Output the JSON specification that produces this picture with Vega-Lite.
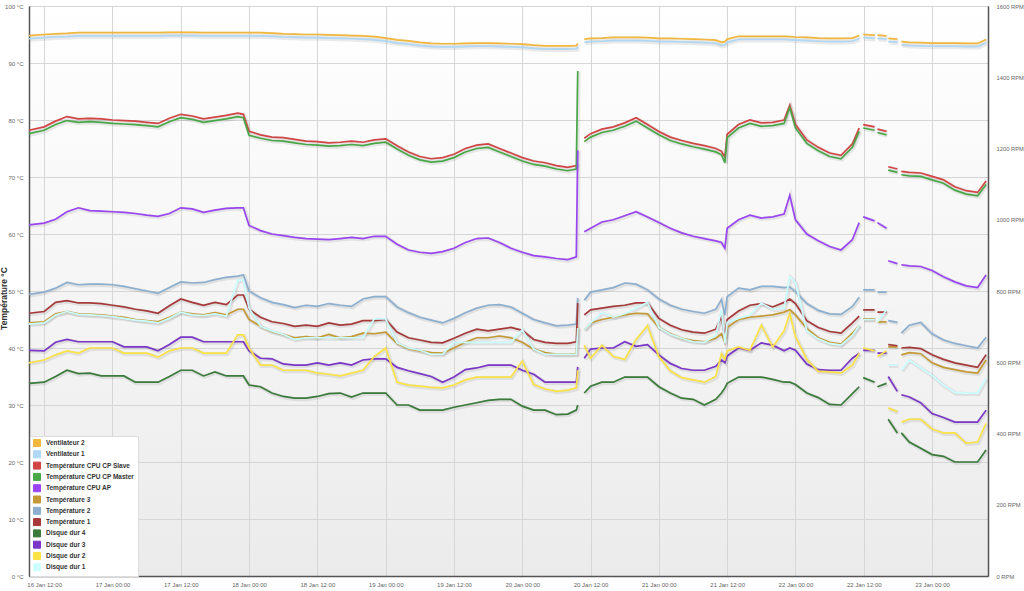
{
"$schema": "https://vega.github.io/schema/vega-lite/v6.json",
"width": 959, "height": 570,
"autosize": {"type": "none"},
"padding": {"left": 29, "top": 6, "right": 36, "bottom": 15},
"background": "white",
"config": {
  "font": "Liberation Sans",
  "view": {"stroke": "#666", "strokeWidth": 1, "fill": {"gradient": "linear", "x1": 0, "y1": 0, "x2": 0, "y2": 1, "stops": [{"offset": 0, "color": "#ffffff"}, {"offset": 1, "color": "#ebebeb"}]}}
},
"data": {"format": {"parse": {"t": "utc:'%d %H:%M'"}}, "values": [
{"t":"16 09:20","v2":1517,"v1":1508,"cs":78.2,"cm":77.6,"ap":61.6,"t3":44.4,"t2":49.4,"t1":46.1,"d4":33.8,"d3":39.6,"d2":37.4,"d1":44.2},
{"t":"16 12:00","v2":1520,"v1":1511,"cs":78.8,"cm":78.2,"ap":61.9,"t3":44.6,"t2":49.8,"t1":46.4,"d4":34.0,"d3":39.5,"d2":37.9,"d1":44.4},
{"t":"16 14:00","v2":1522,"v1":1513,"cs":79.8,"cm":79.2,"ap":62.6,"t3":46.0,"t2":50.5,"t1":48.0,"d4":35.0,"d3":41.0,"d2":38.8,"d1":45.8},
{"t":"16 16:00","v2":1523,"v1":1514,"cs":80.6,"cm":79.9,"ap":63.9,"t3":46.4,"t2":51.5,"t1":48.3,"d4":36.1,"d3":41.5,"d2":39.5,"d1":46.4},
{"t":"16 18:00","v2":1525,"v1":1516,"cs":80.2,"cm":79.6,"ap":64.6,"t3":46.0,"t2":51.1,"t1":47.9,"d4":35.5,"d3":41.1,"d2":39.1,"d1":45.9},
{"t":"16 20:00","v2":1525,"v1":1516,"cs":80.3,"cm":79.7,"ap":64.1,"t3":45.9,"t2":51.2,"t1":47.9,"d4":35.6,"d3":41.1,"d2":40.0,"d1":45.8},
{"t":"16 22:00","v2":1525,"v1":1516,"cs":80.2,"cm":79.6,"ap":64.0,"t3":45.8,"t2":51.2,"t1":47.8,"d4":35.1,"d3":41.1,"d2":40.0,"d1":45.7},
{"t":"17 00:00","v2":1525,"v1":1516,"cs":80.0,"cm":79.4,"ap":63.9,"t3":45.6,"t2":51.1,"t1":47.5,"d4":35.1,"d3":41.1,"d2":40.0,"d1":45.5},
{"t":"17 02:00","v2":1525,"v1":1516,"cs":79.9,"cm":79.3,"ap":63.8,"t3":45.4,"t2":50.8,"t1":47.2,"d4":35.1,"d3":40.2,"d2":39.1,"d1":45.2},
{"t":"17 04:00","v2":1525,"v1":1516,"cs":79.8,"cm":79.2,"ap":63.6,"t3":45.0,"t2":50.4,"t1":46.8,"d4":34.0,"d3":40.2,"d2":39.1,"d1":44.9},
{"t":"17 06:00","v2":1525,"v1":1516,"cs":79.6,"cm":79.0,"ap":63.3,"t3":44.8,"t2":50.0,"t1":46.5,"d4":34.0,"d3":40.2,"d2":39.1,"d1":44.7},
{"t":"17 08:00","v2":1525,"v1":1516,"cs":79.4,"cm":78.8,"ap":63.1,"t3":44.6,"t2":49.6,"t1":46.1,"d4":34.0,"d3":39.5,"d2":38.4,"d1":44.4},
{"t":"17 10:00","v2":1526,"v1":1517,"cs":80.3,"cm":79.7,"ap":63.6,"t3":45.4,"t2":50.6,"t1":47.4,"d4":35.0,"d3":40.6,"d2":39.5,"d1":45.2},
{"t":"17 12:00","v2":1526,"v1":1517,"cs":81.0,"cm":80.4,"ap":64.6,"t3":46.3,"t2":51.6,"t1":48.6,"d4":36.1,"d3":41.9,"d2":40.0,"d1":46.3},
{"t":"17 14:00","v2":1526,"v1":1517,"cs":80.7,"cm":80.1,"ap":64.4,"t3":46.0,"t2":51.4,"t1":48.0,"d4":36.1,"d3":41.9,"d2":40.0,"d1":45.8},
{"t":"17 16:00","v2":1525,"v1":1516,"cs":80.2,"cm":79.6,"ap":63.8,"t3":45.8,"t2":51.5,"t1":47.5,"d4":35.1,"d3":41.1,"d2":39.1,"d1":45.7},
{"t":"17 18:00","v2":1525,"v1":1516,"cs":80.5,"cm":79.9,"ap":64.2,"t3":46.2,"t2":52.0,"t1":48.0,"d4":35.8,"d3":41.1,"d2":39.1,"d1":46.0},
{"t":"17 20:00","v2":1525,"v1":1516,"cs":80.8,"cm":80.2,"ap":64.5,"t3":45.8,"t2":52.4,"t1":47.6,"d4":35.1,"d3":41.1,"d2":39.1,"d1":45.6},
{"t":"17 22:00","v2":1525,"v1":1516,"cs":81.2,"cm":80.6,"ap":64.6,"t3":46.8,"t2":52.6,"t1":49.3,"d4":35.1,"d3":41.1,"d2":42.3,"d1":51.9},
{"t":"17 23:00","v2":1525,"v1":1516,"cs":81.0,"cm":80.4,"ap":64.6,"t3":46.8,"t2":52.8,"t1":49.3,"d4":35.1,"d3":41.1,"d2":42.3,"d1":51.9},
{"t":"18 00:00","v2":1525,"v1":1516,"cs":78.0,"cm":77.3,"ap":61.5,"t3":45.0,"t2":50.0,"t1":46.8,"d4":33.5,"d3":39.5,"d2":40.0,"d1":47.0},
{"t":"18 02:00","v2":1525,"v1":1516,"cs":77.4,"cm":76.8,"ap":60.6,"t3":43.8,"t2":48.8,"t1":45.4,"d4":33.2,"d3":38.2,"d2":37.0,"d1":43.8},
{"t":"18 04:00","v2":1524,"v1":1515,"cs":77.0,"cm":76.4,"ap":60.0,"t3":42.9,"t2":48.0,"t1":44.6,"d4":32.1,"d3":38.1,"d2":37.0,"d1":43.0},
{"t":"18 06:00","v2":1522,"v1":1513,"cs":76.9,"cm":76.3,"ap":59.7,"t3":42.4,"t2":47.6,"t1":44.3,"d4":31.5,"d3":37.2,"d2":36.1,"d1":42.4},
{"t":"18 08:00","v2":1521,"v1":1512,"cs":76.6,"cm":76.0,"ap":59.4,"t3":41.8,"t2":47.1,"t1":43.8,"d4":31.2,"d3":37.0,"d2":36.1,"d1":41.5},
{"t":"18 10:00","v2":1520,"v1":1511,"cs":76.3,"cm":75.7,"ap":59.2,"t3":42.0,"t2":47.5,"t1":44.0,"d4":31.2,"d3":37.0,"d2":36.1,"d1":41.8},
{"t":"18 12:00","v2":1520,"v1":1511,"cs":76.2,"cm":75.6,"ap":59.1,"t3":41.8,"t2":47.3,"t1":43.8,"d4":31.5,"d3":37.4,"d2":35.6,"d1":41.8},
{"t":"18 14:00","v2":1519,"v1":1510,"cs":76.0,"cm":75.4,"ap":59.0,"t3":42.4,"t2":47.8,"t1":44.4,"d4":32.0,"d3":37.0,"d2":35.4,"d1":41.8},
{"t":"18 16:00","v2":1518,"v1":1509,"cs":76.1,"cm":75.5,"ap":59.2,"t3":41.8,"t2":47.5,"t1":44.0,"d4":32.1,"d3":37.4,"d2":35.1,"d1":41.8},
{"t":"18 18:00","v2":1517,"v1":1508,"cs":76.3,"cm":75.7,"ap":59.4,"t3":42.0,"t2":47.3,"t1":44.2,"d4":31.4,"d3":37.0,"d2":35.6,"d1":41.8},
{"t":"18 20:00","v2":1516,"v1":1507,"cs":76.1,"cm":75.5,"ap":59.2,"t3":42.6,"t2":48.6,"t1":44.8,"d4":32.1,"d3":37.9,"d2":36.1,"d1":41.8},
{"t":"18 22:00","v2":1514,"v1":1505,"cs":76.5,"cm":75.9,"ap":59.6,"t3":42.5,"t2":49.0,"t1":44.8,"d4":32.1,"d3":38.1,"d2":38.5,"d1":45.1},
{"t":"19 00:00","v2":1510,"v1":1501,"cs":76.7,"cm":76.1,"ap":59.6,"t3":42.8,"t2":49.0,"t1":45.0,"d4":32.1,"d3":38.1,"d2":40.0,"d1":45.1},
{"t":"19 02:00","v2":1505,"v1":1496,"cs":75.5,"cm":74.9,"ap":58.2,"t3":40.8,"t2":47.2,"t1":42.8,"d4":30.0,"d3":36.6,"d2":34.0,"d1":40.9},
{"t":"19 04:00","v2":1502,"v1":1493,"cs":74.4,"cm":73.8,"ap":57.2,"t3":39.9,"t2":46.2,"t1":41.8,"d4":30.0,"d3":36.0,"d2":33.5,"d1":40.0},
{"t":"19 06:00","v2":1498,"v1":1489,"cs":73.6,"cm":73.0,"ap":56.8,"t3":39.5,"t2":45.4,"t1":41.4,"d4":29.1,"d3":35.5,"d2":33.3,"d1":39.6},
{"t":"19 08:00","v2":1495,"v1":1486,"cs":73.2,"cm":72.6,"ap":56.6,"t3":39.2,"t2":44.9,"t1":41.0,"d4":29.1,"d3":35.0,"d2":33.1,"d1":38.9},
{"t":"19 10:00","v2":1494,"v1":1485,"cs":73.4,"cm":72.8,"ap":56.9,"t3":39.1,"t2":44.4,"t1":40.9,"d4":29.1,"d3":34.0,"d2":33.0,"d1":38.9},
{"t":"19 12:00","v2":1494,"v1":1485,"cs":74.0,"cm":73.4,"ap":57.5,"t3":40.0,"t2":45.2,"t1":41.7,"d4":29.6,"d3":34.9,"d2":33.5,"d1":41.0},
{"t":"19 14:00","v2":1495,"v1":1486,"cs":75.0,"cm":74.4,"ap":58.5,"t3":41.0,"t2":46.2,"t1":42.6,"d4":30.0,"d3":36.2,"d2":34.4,"d1":41.0},
{"t":"19 16:00","v2":1496,"v1":1487,"cs":75.6,"cm":75.0,"ap":59.2,"t3":41.8,"t2":47.0,"t1":43.3,"d4":30.4,"d3":36.5,"d2":34.9,"d1":41.0},
{"t":"19 18:00","v2":1496,"v1":1487,"cs":75.8,"cm":75.2,"ap":59.3,"t3":41.8,"t2":47.5,"t1":43.0,"d4":30.8,"d3":37.0,"d2":34.9,"d1":41.0},
{"t":"19 20:00","v2":1495,"v1":1486,"cs":75.0,"cm":74.4,"ap":58.5,"t3":42.1,"t2":47.6,"t1":43.3,"d4":31.0,"d3":37.0,"d2":34.9,"d1":41.0},
{"t":"19 22:00","v2":1494,"v1":1485,"cs":74.2,"cm":73.6,"ap":57.5,"t3":41.8,"t2":47.2,"t1":43.6,"d4":31.0,"d3":37.0,"d2":34.9,"d1":41.0},
{"t":"20 00:00","v2":1493,"v1":1484,"cs":73.4,"cm":72.8,"ap":56.8,"t3":41.0,"t2":46.1,"t1":43.1,"d4":29.8,"d3":36.1,"d2":37.7,"d1":43.2},
{"t":"20 02:00","v2":1490,"v1":1481,"cs":72.8,"cm":72.2,"ap":56.2,"t3":39.8,"t2":45.0,"t1":41.5,"d4":29.1,"d3":35.4,"d2":33.6,"d1":39.8},
{"t":"20 04:00","v2":1488,"v1":1479,"cs":72.5,"cm":71.9,"ap":56.0,"t3":39.2,"t2":44.4,"t1":41.0,"d4":29.1,"d3":34.0,"d2":32.8,"d1":38.9},
{"t":"20 06:00","v2":1488,"v1":1479,"cs":72.0,"cm":71.4,"ap":55.7,"t3":38.9,"t2":43.9,"t1":40.8,"d4":28.3,"d3":34.0,"d2":32.4,"d1":38.9},
{"t":"20 08:00","v2":1488,"v1":1479,"cs":71.7,"cm":71.1,"ap":55.5,"t3":38.9,"t2":44.0,"t1":40.8,"d4":28.4,"d3":34.0,"d2":32.6,"d1":38.9},
{"t":"20 09:30","v2":1489,"v1":1480,"cs":72.0,"cm":71.4,"ap":56.0,"t3":39.0,"t2":44.2,"t1":41.1,"d4":29.1,"d3":34.0,"d2":33.0,"d1":38.9},
{"t":"20 09:45","v2":1495,"v1":1486,"cs":72.3,"cm":88.6,"ap":74.7,"t3":43.7,"t2":48.8,"t1":47.9,"d4":30.0,"d3":36.7,"d2":36.1,"d1":43.5},
{"t":"20 10:00","v2":null,"v1":null,"cs":null,"cm":null,"ap":null,"t3":null,"t2":null,"t1":null,"d4":null,"d3":null,"d2":null,"d1":null},
{"t":"20 10:54","v2":1507,"v1":1498,"cs":76.8,"cm":76.2,"ap":60.4,"t3":43.2,"t2":48.4,"t1":45.8,"d4":32.1,"d3":38.2,"d2":40.5,"d1":43.2},
{"t":"20 12:00","v2":1509,"v1":1500,"cs":77.6,"cm":77.0,"ap":61.0,"t3":44.4,"t2":49.8,"t1":46.7,"d4":33.3,"d3":39.8,"d2":38.2,"d1":44.4},
{"t":"20 14:00","v2":1510,"v1":1501,"cs":78.4,"cm":77.8,"ap":62.1,"t3":45.0,"t2":50.2,"t1":47.0,"d4":34.0,"d3":40.0,"d2":40.5,"d1":46.2},
{"t":"20 16:00","v2":1512,"v1":1503,"cs":78.8,"cm":78.2,"ap":62.5,"t3":45.4,"t2":50.6,"t1":47.3,"d4":34.0,"d3":40.0,"d2":38.5,"d1":45.4},
{"t":"20 18:00","v2":1512,"v1":1503,"cs":79.5,"cm":78.9,"ap":63.2,"t3":45.8,"t2":51.4,"t1":47.5,"d4":34.9,"d3":41.1,"d2":38.0,"d1":46.0},
{"t":"20 20:00","v2":1512,"v1":1503,"cs":80.4,"cm":79.8,"ap":63.9,"t3":46.1,"t2":51.2,"t1":47.9,"d4":34.9,"d3":40.3,"d2":41.5,"d1":47.0},
{"t":"20 22:00","v2":1511,"v1":1502,"cs":79.2,"cm":78.6,"ap":63.0,"t3":46.0,"t2":50.2,"t1":47.9,"d4":34.9,"d3":40.6,"d2":43.9,"d1":48.0},
{"t":"21 00:00","v2":1509,"v1":1500,"cs":78.0,"cm":77.4,"ap":62.0,"t3":43.6,"t2":48.6,"t1":45.2,"d4":33.2,"d3":38.8,"d2":38.5,"d1":43.6},
{"t":"21 02:00","v2":1509,"v1":1500,"cs":77.0,"cm":76.4,"ap":61.0,"t3":42.5,"t2":47.5,"t1":44.0,"d4":32.1,"d3":37.3,"d2":36.0,"d1":42.4},
{"t":"21 04:00","v2":1508,"v1":1499,"cs":76.4,"cm":75.8,"ap":60.2,"t3":41.7,"t2":46.8,"t1":43.2,"d4":31.2,"d3":36.4,"d2":34.8,"d1":41.7},
{"t":"21 06:00","v2":1507,"v1":1498,"cs":75.9,"cm":75.3,"ap":59.6,"t3":41.3,"t2":46.4,"t1":42.8,"d4":31.0,"d3":36.1,"d2":34.4,"d1":41.1},
{"t":"21 08:00","v2":1506,"v1":1497,"cs":75.5,"cm":74.9,"ap":59.2,"t3":41.1,"t2":46.1,"t1":42.6,"d4":30.0,"d3":36.1,"d2":34.0,"d1":41.0},
{"t":"21 10:00","v2":1504,"v1":1495,"cs":75.0,"cm":74.4,"ap":58.8,"t3":41.7,"t2":46.8,"t1":43.3,"d4":31.0,"d3":36.8,"d2":35.0,"d1":42.2},
{"t":"21 11:00","v2":1498,"v1":1489,"cs":74.5,"cm":73.9,"ap":58.5,"t3":42.5,"t2":48.5,"t1":45.5,"d4":32.1,"d3":37.9,"d2":39.0,"d1":46.7},
{"t":"21 11:36","v2":1500,"v1":1491,"cs":73.5,"cm":72.5,"ap":57.5,"t3":41.0,"t2":45.8,"t1":41.8,"d4":33.0,"d3":37.4,"d2":38.0,"d1":40.8},
{"t":"21 12:00","v2":1507,"v1":1498,"cs":77.5,"cm":76.9,"ap":61.0,"t3":43.6,"t2":49.0,"t1":45.0,"d4":33.8,"d3":38.6,"d2":39.5,"d1":44.5},
{"t":"21 14:00","v2":1515,"v1":1506,"cs":79.2,"cm":78.6,"ap":62.5,"t3":45.0,"t2":50.5,"t1":46.5,"d4":34.9,"d3":40.0,"d2":40.2,"d1":45.2},
{"t":"21 16:00","v2":1515,"v1":1506,"cs":80.0,"cm":79.4,"ap":63.3,"t3":45.4,"t2":50.2,"t1":47.5,"d4":34.9,"d3":39.6,"d2":39.6,"d1":45.8},
{"t":"21 18:00","v2":1515,"v1":1506,"cs":79.5,"cm":78.9,"ap":62.8,"t3":45.6,"t2":50.8,"t1":47.8,"d4":34.9,"d3":40.9,"d2":44.0,"d1":47.9},
{"t":"21 20:00","v2":1515,"v1":1506,"cs":79.6,"cm":79.0,"ap":63.0,"t3":45.8,"t2":50.8,"t1":47.2,"d4":34.5,"d3":40.5,"d2":40.2,"d1":46.8},
{"t":"21 22:00","v2":1515,"v1":1506,"cs":80.0,"cm":79.4,"ap":63.5,"t3":46.3,"t2":50.6,"t1":48.0,"d4":34.0,"d3":39.5,"d2":43.0,"d1":47.0},
{"t":"21 23:00","v2":1514,"v1":1505,"cs":82.6,"cm":82.2,"ap":66.8,"t3":46.7,"t2":50.7,"t1":48.6,"d4":34.0,"d3":40.0,"d2":46.1,"d1":52.5},
{"t":"22 00:00","v2":1513,"v1":1504,"cs":79.2,"cm":78.6,"ap":62.5,"t3":45.8,"t2":49.9,"t1":47.8,"d4":33.6,"d3":39.6,"d2":42.0,"d1":51.5},
{"t":"22 02:00","v2":1512,"v1":1503,"cs":76.5,"cm":75.9,"ap":60.0,"t3":43.4,"t2":47.8,"t1":44.8,"d4":32.1,"d3":37.2,"d2":38.0,"d1":43.0},
{"t":"22 04:00","v2":1510,"v1":1501,"cs":75.2,"cm":74.6,"ap":58.8,"t3":41.8,"t2":46.6,"t1":43.6,"d4":31.3,"d3":36.2,"d2":35.9,"d1":41.6},
{"t":"22 06:00","v2":1509,"v1":1500,"cs":74.2,"cm":73.6,"ap":57.8,"t3":41.0,"t2":46.0,"t1":42.9,"d4":30.1,"d3":36.1,"d2":35.8,"d1":40.8},
{"t":"22 08:00","v2":1509,"v1":1500,"cs":73.8,"cm":73.2,"ap":57.2,"t3":40.7,"t2":45.9,"t1":42.6,"d4":30.0,"d3":36.1,"d2":35.6,"d1":40.5},
{"t":"22 10:00","v2":1510,"v1":1501,"cs":75.8,"cm":75.2,"ap":59.0,"t3":42.6,"t2":47.3,"t1":44.4,"d4":32.0,"d3":38.2,"d2":37.0,"d1":42.2},
{"t":"22 11:12","v2":1517,"v1":1508,"cs":78.6,"cm":78.0,"ap":62.0,"t3":44.0,"t2":48.9,"t1":45.6,"d4":33.2,"d3":39.1,"d2":39.1,"d1":44.0},
{"t":"22 11:30","v2":null,"v1":null,"cs":null,"cm":null,"ap":null,"t3":null,"t2":null,"t1":null,"d4":null,"d3":null,"d2":null,"d1":null},
{"t":"22 11:54","v2":1520,"v1":1511,"cs":79.2,"cm":78.6,"ap":63.0,"t3":45.1,"t2":50.2,"t1":46.7,"d4":34.8,"d3":39.6,"d2":40.0,"d1":45.0},
{"t":"22 13:54","v2":1518,"v1":1509,"cs":78.8,"cm":78.2,"ap":62.3,"t3":45.1,"t2":50.2,"t1":46.7,"d4":34.0,"d3":39.6,"d2":39.5,"d1":45.0},
{"t":"22 14:06","v2":null,"v1":null,"cs":null,"cm":null,"ap":null,"t3":null,"t2":null,"t1":null,"d4":null,"d3":null,"d2":null,"d1":null},
{"t":"22 14:24","v2":1518,"v1":1509,"cs":78.4,"cm":77.8,"ap":62.0,"t3":44.6,"t2":49.8,"t1":46.3,"d4":33.2,"d3":39.1,"d2":38.5,"d1":44.5},
{"t":"22 16:00","v2":1516,"v1":1507,"cs":78.0,"cm":77.4,"ap":61.0,"t3":44.6,"t2":49.8,"t1":46.3,"d4":33.8,"d3":39.1,"d2":39.5,"d1":46.7},
{"t":"22 16:09","v2":null,"v1":null,"cs":null,"cm":null,"ap":null,"t3":null,"t2":null,"t1":null,"d4":null,"d3":null,"d2":null,"d1":null},
{"t":"22 16:18","v2":1509,"v1":1500,"cs":71.8,"cm":71.2,"ap":55.3,"t3":40.2,"t2":44.8,"t1":40.6,"d4":27.5,"d3":35.0,"d2":29.5,"d1":37.0},
{"t":"22 17:54","v2":1507,"v1":1498,"cs":71.4,"cm":70.8,"ap":54.8,"t3":40.2,"t2":44.5,"t1":40.4,"d4":25.1,"d3":32.4,"d2":28.8,"d1":37.0},
{"t":"22 18:12","v2":null,"v1":null,"cs":null,"cm":null,"ap":null,"t3":null,"t2":null,"t1":null,"d4":null,"d3":null,"d2":null,"d1":null},
{"t":"22 18:36","v2":1500,"v1":1491,"cs":71.0,"cm":70.4,"ap":54.6,"t3":38.8,"t2":42.6,"t1":40.0,"d4":25.1,"d3":31.8,"d2":27.0,"d1":36.1},
{"t":"22 20:00","v2":1498,"v1":1489,"cs":70.8,"cm":70.2,"ap":54.4,"t3":39.2,"t2":44.0,"t1":40.1,"d4":23.5,"d3":31.4,"d2":27.5,"d1":37.9},
{"t":"22 22:00","v2":1497,"v1":1488,"cs":70.7,"cm":70.1,"ap":54.3,"t3":39.0,"t2":44.5,"t1":39.9,"d4":22.4,"d3":30.4,"d2":27.5,"d1":36.5},
{"t":"23 00:00","v2":1496,"v1":1487,"cs":70.1,"cm":69.5,"ap":53.6,"t3":37.4,"t2":42.5,"t1":38.8,"d4":21.3,"d3":28.5,"d2":25.8,"d1":35.2},
{"t":"23 02:00","v2":1496,"v1":1487,"cs":69.5,"cm":68.9,"ap":52.5,"t3":36.6,"t2":41.4,"t1":38.0,"d4":21.0,"d3":27.8,"d2":25.1,"d1":33.5},
{"t":"23 04:00","v2":1496,"v1":1487,"cs":68.3,"cm":67.7,"ap":51.6,"t3":36.2,"t2":40.8,"t1":37.4,"d4":20.0,"d3":27.0,"d2":25.1,"d1":32.2},
{"t":"23 06:00","v2":1495,"v1":1486,"cs":67.6,"cm":67.0,"ap":50.9,"t3":35.8,"t2":40.4,"t1":37.0,"d4":20.0,"d3":27.0,"d2":23.3,"d1":32.1},
{"t":"23 08:00","v2":1495,"v1":1486,"cs":67.3,"cm":66.7,"ap":50.6,"t3":35.6,"t2":40.0,"t1":36.6,"d4":20.0,"d3":27.0,"d2":23.5,"d1":32.1},
{"t":"23 09:30","v2":1506,"v1":1497,"cs":69.3,"cm":68.7,"ap":52.8,"t3":37.9,"t2":41.9,"t1":38.8,"d4":22.1,"d3":29.1,"d2":26.8,"d1":34.7}
]},
"resolve": {"scale": {"y": "independent"}, "axis": {"y": "independent"}},
"layer": [
{
  "transform": [{"fold": ["cs","cm","ap","t3","t2","t1","d4","d3","d2","d1"], "as": ["key","value"]}],
  "encoding": {
    "x": {"field": "t", "type": "temporal",
      "scale": {"type": "utc", "domain": [{"year": 1900, "month": 1, "date": 16, "hours": 9, "minutes": 20, "utc": true}, {"year": 1900, "month": 1, "date": 23, "hours": 9, "minutes": 50, "utc": true}]},
      "axis": {"title": null, "format": "%d %b %H:%M",
        "values": [
          {"year": 1900, "month": 1, "date": 16, "hours": 12, "utc": true},
          {"year": 1900, "month": 1, "date": 17, "hours": 0, "utc": true},
          {"year": 1900, "month": 1, "date": 17, "hours": 12, "utc": true},
          {"year": 1900, "month": 1, "date": 18, "hours": 0, "utc": true},
          {"year": 1900, "month": 1, "date": 18, "hours": 12, "utc": true},
          {"year": 1900, "month": 1, "date": 19, "hours": 0, "utc": true},
          {"year": 1900, "month": 1, "date": 19, "hours": 12, "utc": true},
          {"year": 1900, "month": 1, "date": 20, "hours": 0, "utc": true},
          {"year": 1900, "month": 1, "date": 20, "hours": 12, "utc": true},
          {"year": 1900, "month": 1, "date": 21, "hours": 0, "utc": true},
          {"year": 1900, "month": 1, "date": 21, "hours": 12, "utc": true},
          {"year": 1900, "month": 1, "date": 22, "hours": 0, "utc": true},
          {"year": 1900, "month": 1, "date": 22, "hours": 12, "utc": true},
          {"year": 1900, "month": 1, "date": 23, "hours": 0, "utc": true}],
        "labelFontSize": 6, "labelColor": "#666", "ticks": false, "labelPadding": 5, "gridColor": "#d6d6d6", "domainColor": "#555", "domainWidth": 1.5, "labelFlush": false, "labelOverlap": false}},
    "y": {"field": "value", "type": "quantitative",
      "scale": {"domain": [0, 100], "nice": false},
      "axis": {"title": "Température °C", "values": [0,10,20,30,40,50,60,70,80,90,100], "labelExpr": "datum.value + ' °C'", "ticks": false, "labelPadding": 6, "labelFontSize": 6, "labelColor": "#666", "gridColor": "#d6d6d6", "domainColor": "#555", "domainWidth": 1.5, "titleFontSize": 8.5, "titleColor": "#333", "titleFontWeight": "bold", "titleX": -26, "titleY": 292, "titleAngle": -90, "titleAlign": "center", "titleBaseline": "middle"}},
    "detail": {"field": "key"}
  },
  "layer": [
    {"mark": {"type": "line", "stroke": "#000", "opacity": 0.08, "strokeWidth": 4, "xOffset": 1, "yOffset": 1, "invalid": "break-paths-show-domains"}},
    {"mark": {"type": "line", "strokeWidth": 1.7, "invalid": "break-paths-show-domains"},
     "encoding": {"color": {"field": "key", "type": "nominal",
       "scale": {"domain": ["v2","v1","cs","cm","ap","t3","t2","t1","d4","d3","d2","d1"], "range": ["#f2b83c","#b0d8f4","#d24545","#48a848","#9a45f2","#c49a36","#8cafd0","#a63a3a","#3a7a3a","#7a36c6","#fbe245","#ccffff"]},
       "legend": {"title": null, "orient": "none", "legendX": 1, "legendY": 430, "direction": "vertical", "fillColor": "#ffffff", "strokeColor": "#dddddd", "padding": 3, "symbolType": "square", "symbolSize": 49, "rowPadding": -0.7, "labelFontSize": 6.5, "labelFontWeight": "bold", "labelColor": "#333", "labelOffset": 5, "labelLimit": 200,
         "labelExpr": "datum.label == 'v2' ? 'Ventilateur 2' : datum.label == 'v1' ? 'Ventilateur 1' : datum.label == 'cs' ? 'Température CPU CP Slave' : datum.label == 'cm' ? 'Température CPU CP Master' : datum.label == 'ap' ? 'Température CPU AP' : datum.label == 't3' ? 'Température 3' : datum.label == 't2' ? 'Température 2' : datum.label == 't1' ? 'Température 1' : datum.label == 'd4' ? 'Disque dur 4' : datum.label == 'd3' ? 'Disque dur 3' : datum.label == 'd2' ? 'Disque dur 2' : 'Disque dur 1'",
         "encode": {"symbols": {"update": {"fill": {"scale": "color", "field": "value"}, "stroke": {"value": "#cccccc"}, "strokeWidth": {"value": 1}}}}}}}}
  ]
},
{
  "transform": [{"fold": ["v2","v1"], "as": ["key","value"]}],
  "encoding": {
    "x": {"field": "t", "type": "temporal",
      "scale": {"type": "utc", "domain": [{"year": 1900, "month": 1, "date": 16, "hours": 9, "minutes": 20, "utc": true}, {"year": 1900, "month": 1, "date": 23, "hours": 9, "minutes": 50, "utc": true}]},
      "axis": {"title": null, "format": "%d %b %H:%M",
        "values": [
          {"year": 1900, "month": 1, "date": 16, "hours": 12, "utc": true},
          {"year": 1900, "month": 1, "date": 17, "hours": 0, "utc": true},
          {"year": 1900, "month": 1, "date": 17, "hours": 12, "utc": true},
          {"year": 1900, "month": 1, "date": 18, "hours": 0, "utc": true},
          {"year": 1900, "month": 1, "date": 18, "hours": 12, "utc": true},
          {"year": 1900, "month": 1, "date": 19, "hours": 0, "utc": true},
          {"year": 1900, "month": 1, "date": 19, "hours": 12, "utc": true},
          {"year": 1900, "month": 1, "date": 20, "hours": 0, "utc": true},
          {"year": 1900, "month": 1, "date": 20, "hours": 12, "utc": true},
          {"year": 1900, "month": 1, "date": 21, "hours": 0, "utc": true},
          {"year": 1900, "month": 1, "date": 21, "hours": 12, "utc": true},
          {"year": 1900, "month": 1, "date": 22, "hours": 0, "utc": true},
          {"year": 1900, "month": 1, "date": 22, "hours": 12, "utc": true},
          {"year": 1900, "month": 1, "date": 23, "hours": 0, "utc": true}],
        "labelFontSize": 6, "labelColor": "#666", "ticks": false, "labelPadding": 5, "gridColor": "#d6d6d6", "domainColor": "#555", "domainWidth": 1.5, "labelFlush": false, "labelOverlap": false}},
    "y": {"field": "value", "type": "quantitative",
      "scale": {"domain": [0, 1600], "nice": false},
      "axis": {"orient": "right", "title": null, "values": [0,200,400,600,800,1000,1200,1400,1600], "labelExpr": "datum.value + ' RPM'", "grid": false, "ticks": false, "labelPadding": 8, "labelFontSize": 5.8, "labelColor": "#666", "domainColor": "#555", "domainWidth": 1.5}},
    "detail": {"field": "key"}
  },
  "layer": [
    {"mark": {"type": "line", "stroke": "#000", "opacity": 0.08, "strokeWidth": 4, "xOffset": 1, "yOffset": 1, "invalid": "break-paths-show-domains"}},
    {"mark": {"type": "line", "strokeWidth": 1.7, "invalid": "break-paths-show-domains"},
     "encoding": {"color": {"field": "key", "type": "nominal",
       "scale": {"domain": ["v2","v1","cs","cm","ap","t3","t2","t1","d4","d3","d2","d1"], "range": ["#f2b83c","#b0d8f4","#d24545","#48a848","#9a45f2","#c49a36","#8cafd0","#a63a3a","#3a7a3a","#7a36c6","#fbe245","#ccffff"]},
       "legend": {"title": null, "orient": "none", "legendX": 1, "legendY": 430, "direction": "vertical", "fillColor": "#ffffff", "strokeColor": "#dddddd", "padding": 3, "symbolType": "square", "symbolSize": 49, "rowPadding": -0.7, "labelFontSize": 6.5, "labelFontWeight": "bold", "labelColor": "#333", "labelOffset": 5, "labelLimit": 200,
         "labelExpr": "datum.label == 'v2' ? 'Ventilateur 2' : datum.label == 'v1' ? 'Ventilateur 1' : datum.label == 'cs' ? 'Température CPU CP Slave' : datum.label == 'cm' ? 'Température CPU CP Master' : datum.label == 'ap' ? 'Température CPU AP' : datum.label == 't3' ? 'Température 3' : datum.label == 't2' ? 'Température 2' : datum.label == 't1' ? 'Température 1' : datum.label == 'd4' ? 'Disque dur 4' : datum.label == 'd3' ? 'Disque dur 3' : datum.label == 'd2' ? 'Disque dur 2' : 'Disque dur 1'",
         "encode": {"symbols": {"update": {"fill": {"scale": "color", "field": "value"}, "stroke": {"value": "#cccccc"}, "strokeWidth": {"value": 1}}}}}}}}
  ]
}
]
}
